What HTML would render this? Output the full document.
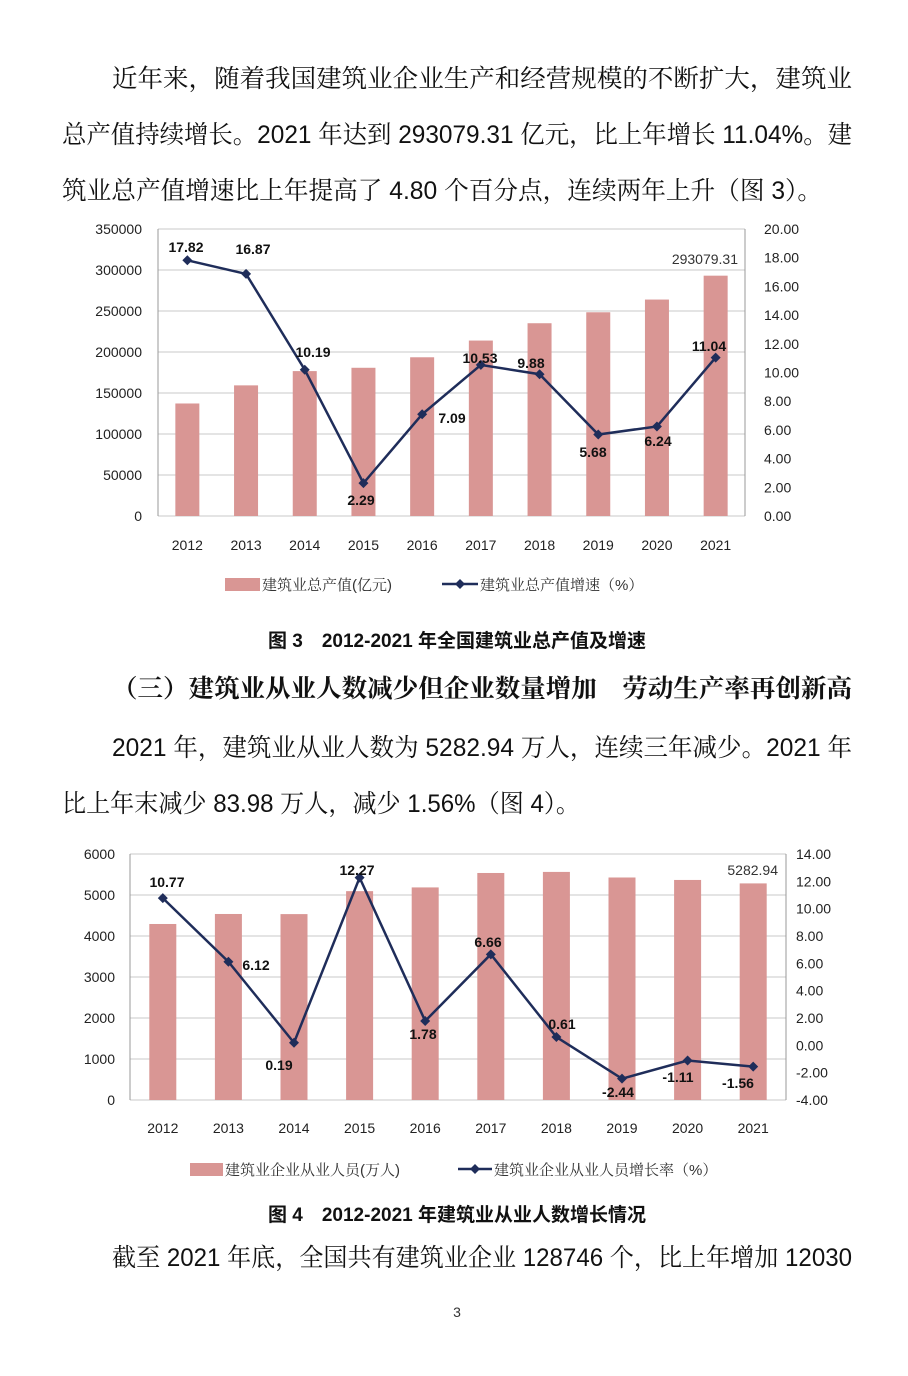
<!DOCTYPE html>
<html><head><meta charset="utf-8"><style>
html,body{margin:0;padding:0;background:#fff;}
svg{display:block;}
text{font-family:"Liberation Sans","Noto Sans CJK SC",sans-serif;}
.cn{font-family:"Liberation Sans","Noto Serif CJK SC",serif;}
.cap{font-family:"Liberation Sans","Noto Sans CJK SC",sans-serif;font-weight:bold;}
</style></head><body>
<svg id="s" width="908" height="1376" xmlns="http://www.w3.org/2000/svg">
<g font-size="25" fill="#111" class="cn">
<text class="cn" x="112" y="87" textLength="740" lengthAdjust="spacingAndGlyphs">近年来，随着我国建筑业企业生产和经营规模的不断扩大，建筑业</text>
<text class="cn" x="62" y="143" textLength="790" lengthAdjust="spacingAndGlyphs">总产值持续增长。2021 年达到 293079.31 亿元，比上年增长 11.04%。建</text>
<text class="cn" x="62" y="199" textLength="760" lengthAdjust="spacingAndGlyphs">筑业总产值增速比上年提高了 4.80 个百分点，连续两年上升（图 3）。</text>
<text class="cn" x="112" y="697" font-weight="bold" textLength="740" lengthAdjust="spacingAndGlyphs">（三）建筑业从业人数减少但企业数量增加　劳动生产率再创新高</text>
<text class="cn" x="112" y="756" textLength="740" lengthAdjust="spacingAndGlyphs">2021 年，建筑业从业人数为 5282.94 万人，连续三年减少。2021 年</text>
<text class="cn" x="62" y="812" textLength="518" lengthAdjust="spacingAndGlyphs">比上年末减少 83.98 万人，减少 1.56%（图 4）。</text>
<text class="cn" x="112" y="1266" textLength="740" lengthAdjust="spacingAndGlyphs">截至 2021 年底，全国共有建筑业企业 128746 个，比上年增加 12030</text>
</g>
<text class="cap" x="457" y="647" font-size="19" text-anchor="middle" fill="#111">图 3　2012-2021 年全国建筑业总产值及增速</text>
<text class="cap" x="457" y="1221" font-size="19" text-anchor="middle" fill="#111">图 4　2012-2021 年建筑业从业人数增长情况</text>
<text x="457" y="1317" font-size="14" text-anchor="middle" fill="#333">3</text>
</svg>
<script>
const s=document.getElementById('s');let h='';
function chart(o){
 const {x0,x1,y0,y1,lmax,lstep,rmin,rmax,rstep,bars,line,labels,lx,rx,yy}=o;
 const W=(x1-x0)/10;
 for(let v=0;v<=lmax;v+=lstep){const y=y1-(v/lmax)*(y1-y0);
  h+=`<line x1="${x0}" x2="${x1}" y1="${y}" y2="${y}" stroke="#c8c8c8" stroke-width="1"/>`;
  h+=`<text x="${lx}" y="${y+5}" font-size="14" text-anchor="end" fill="#222">${v}</text>`;}
 for(let v=rmin;v<=rmax+0.001;v+=rstep){const y=y1-((v-rmin)/(rmax-rmin))*(y1-y0);
  h+=`<text x="${rx}" y="${y+5}" font-size="14" fill="#222">${v.toFixed(2)}</text>`;}
 h+=`<line x1="${x0}" x2="${x0}" y1="${y0}" y2="${y1}" stroke="#999"/><line x1="${x1}" x2="${x1}" y1="${y0}" y2="${y1}" stroke="#999"/>`;
 bars.forEach((b,i)=>{const c=x0+W*(i+.5),y=y1-(b/lmax)*(y1-y0);
  h+=`<rect x="${c-o.bw/2}" y="${y}" width="${o.bw}" height="${y1-y}" fill="#d99694"/>`;
  h+=`<text x="${c}" y="${yy}" font-size="14" text-anchor="middle" fill="#222">${2012+i}</text>`;});
 const pts=line.map((v,i)=>[x0+W*(i+.5),y1-((v-rmin)/(rmax-rmin))*(y1-y0)]);
 h+=`<polyline points="${pts.map(p=>p.join(',')).join(' ')}" fill="none" stroke="#1f2d5a" stroke-width="2.5"/>`;
 pts.forEach(p=>h+=`<path d="M${p[0]-5},${p[1]}L${p[0]},${p[1]-5}L${p[0]+5},${p[1]}L${p[0]},${p[1]+5}Z" fill="#1f2d5a"/>`);
 labels.forEach(l=>h+=`<text x="${l[0]}" y="${l[1]}" font-size="14" font-weight="bold" text-anchor="middle" fill="#111">${l[2]}</text>`);
}
chart({x0:158,x1:745,y0:229,y1:516,lmax:350000,lstep:50000,rmin:0,rmax:20,rstep:2,bw:24,lx:142,rx:764,yy:550,
 bars:[137218,159312,176713,180757,193567,213954,235086,248446,263947,293079],
 line:[17.82,16.87,10.19,2.29,7.09,10.53,9.88,5.68,6.24,11.04],
 labels:[[186,252,'17.82'],[253,254,'16.87'],[313,357,'10.19'],[361,505,'2.29'],[452,423,'7.09'],[480,363,'10.53'],[531,368,'9.88'],[593,457,'5.68'],[658,446,'6.24'],[709,351,'11.04']]});
h+=`<text x="738" y="264" font-size="14" text-anchor="end" fill="#333">293079.31</text>`;
chart({x0:130,x1:786,y0:854,y1:1100,lmax:6000,lstep:1000,rmin:-4,rmax:14,rstep:2,bw:27,lx:115,rx:796,yy:1133,
 bars:[4293,4537,4534,5094,5185,5537,5563,5427,5367,5283],
 line:[10.77,6.12,0.19,12.27,1.78,6.66,0.61,-2.44,-1.11,-1.56],
 labels:[[167,887,'10.77'],[256,970,'6.12'],[279,1070,'0.19'],[357,875,'12.27'],[423,1039,'1.78'],[488,947,'6.66'],[562,1029,'0.61'],[618,1097,'-2.44'],[678,1082,'-1.11'],[738,1088,'-1.56']]});
h+=`<text x="778" y="875" font-size="14" text-anchor="end" fill="#333">5282.94</text>`;
h+=`<rect x="225" y="578" width="35" height="13" fill="#d99694"/><text class="cn" x="262" y="590" font-size="15" fill="#333">建筑业总产值(亿元)</text>`;
h+=`<line x1="442" x2="478" y1="584" y2="584" stroke="#1f2d5a" stroke-width="2.5"/><path d="M455,584L460,579L465,584L460,589Z" fill="#1f2d5a"/><text class="cn" x="480" y="590" font-size="15" fill="#333">建筑业总产值增速（%）</text>`;
h+=`<rect x="190" y="1163" width="33" height="13" fill="#d99694"/><text class="cn" x="225" y="1175" font-size="15" fill="#333">建筑业企业从业人员(万人)</text>`;
h+=`<line x1="458" x2="492" y1="1169" y2="1169" stroke="#1f2d5a" stroke-width="2.5"/><path d="M470,1169L475,1164L480,1169L475,1174Z" fill="#1f2d5a"/><text class="cn" x="494" y="1175" font-size="15" fill="#333">建筑业企业从业人员增长率（%）</text>`;
s.insertAdjacentHTML('beforeend',h);
</script>
</body></html>
